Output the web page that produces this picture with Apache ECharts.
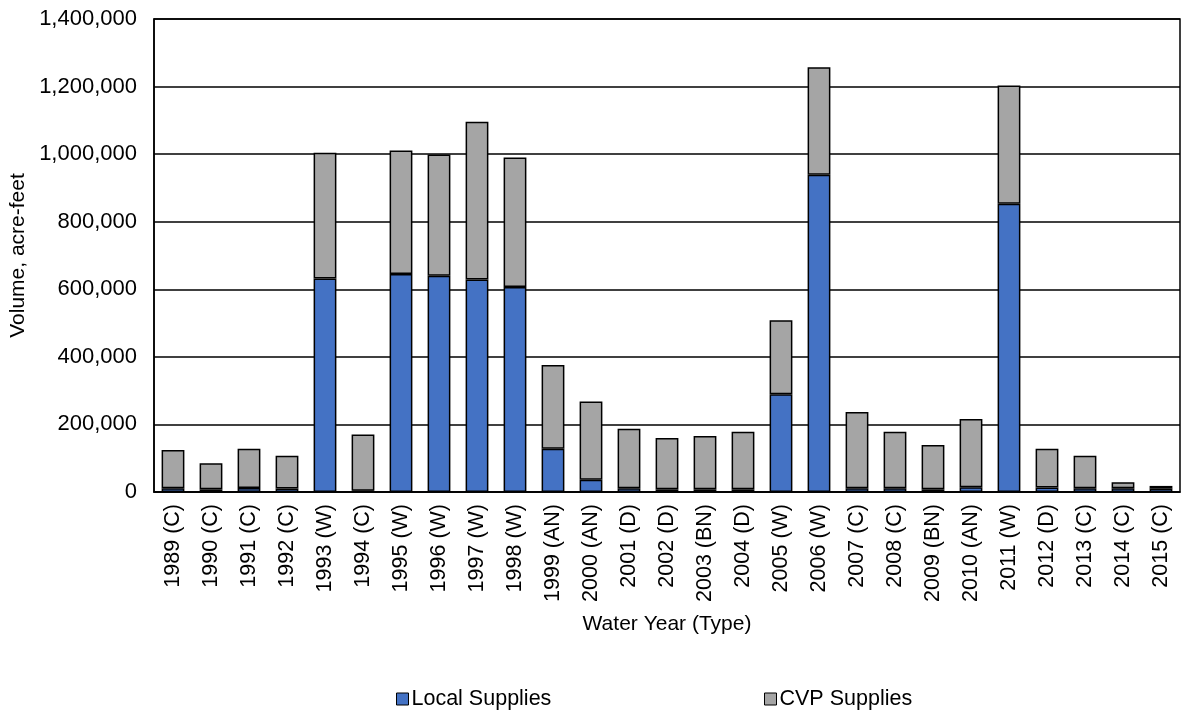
<!DOCTYPE html>
<html>
<head>
<meta charset="utf-8">
<script src="https://cdn.jsdelivr.net/npm/echarts@6/dist/echarts.min.js"></script>
<style>
  html, body { margin: 0; padding: 0; background: #fff; }
  #chart { width: 1188px; height: 713px; }
</style>
</head>
<body>
<div id="chart"></div>
<script>
// Water years with year-type classification
const waterYears = [
  '1989 (C)', '1990 (C)', '1991 (C)', '1992 (C)', '1993 (W)', '1994 (C)',
  '1995 (W)', '1996 (W)', '1997 (W)', '1998 (W)', '1999 (AN)', '2000 (AN)',
  '2001 (D)', '2002 (D)', '2003 (BN)', '2004 (D)', '2005 (W)', '2006 (W)',
  '2007 (C)', '2008 (C)', '2009 (BN)', '2010 (AN)', '2011 (W)', '2012 (D)',
  '2013 (C)', '2014 (C)', '2015 (C)'
];

// Local supplies, acre-feet
const localSupplies = [
  11000, 8000, 12000, 10000, 632000, 4000,
  645000, 640000, 629000, 607000, 128000, 36000,
  11000, 8000, 8000, 8000, 289000, 939000,
  11000, 11000, 8000, 14000, 853000, 13000,
  11000, 11000, 10000
];

// CVP supplies, acre-feet
const cvpSupplies = [
  113000, 77000, 116000, 97000, 372000, 166000,
  366000, 359000, 467000, 383000, 248000, 232000,
  176000, 152000, 158000, 170000, 219000, 318000,
  226000, 167000, 131000, 202000, 350000, 115000,
  96000, 18000, 8000
];

const FONT = '"Liberation Sans", Arial, sans-serif';
const TEXT = '#000';

const chart = echarts.init(document.getElementById('chart'), null, { renderer: 'canvas' });

const fmt = v => v.toString().replace(/\B(?=(\d{3})+(?!\d))/g, ',');

const legendText = { fontFamily: FONT, fontSize: 21.5, color: TEXT, padding: [0, 0, 0, -2] };

chart.setOption({
  animation: false,
  backgroundColor: '#fff',
  grid: {
    left: 154, right: 8, top: 19, bottom: 221,
    outerBoundsMode: 'none',
    containLabel: false,
    show: true, borderColor: '#000', borderWidth: 1.5, backgroundColor: 'transparent'
  },
  legend: [
    {
      data: ['Local Supplies'],
      icon: 'rect',
      left: 391, top: 683,
      itemWidth: 12, itemHeight: 12, itemGap: 4,
      itemStyle: { borderColor: '#000', borderWidth: 1 },
      textStyle: legendText
    },
    {
      data: ['CVP Supplies'],
      icon: 'rect',
      left: 759, top: 683,
      itemWidth: 12, itemHeight: 12, itemGap: 4,
      itemStyle: { borderColor: '#000', borderWidth: 1 },
      textStyle: legendText
    }
  ],
  xAxis: {
    type: 'category',
    data: waterYears,
    name: 'Water Year (Type)',
    nameLocation: 'middle',
    nameGap: 122,
    nameTextStyle: { fontFamily: FONT, fontSize: 21, color: TEXT },
    axisLine: { lineStyle: { color: '#000', width: 1.5 } },
    axisTick: { show: false },
    axisLabel: {
      interval: 0, rotate: 90, margin: 12,
      fontFamily: FONT, fontSize: 21.5, color: TEXT
    }
  },
  yAxis: {
    type: 'value',
    min: 0, max: 1400000, interval: 200000,
    name: 'Volume, acre-feet',
    nameLocation: 'middle',
    nameGap: 123,
    nameRotate: 90,
    nameTextStyle: { fontFamily: FONT, fontSize: 21, color: TEXT },
    axisLine: { show: true, lineStyle: { color: '#000', width: 1.5 } },
    axisTick: { show: false },
    splitLine: { lineStyle: { color: '#000', width: 1.5 } },
    axisLabel: {
      margin: 17, fontFamily: FONT, fontSize: 22, color: TEXT,
      formatter: fmt
    }
  },
  series: [
    {
      name: 'Local Supplies',
      type: 'bar',
      stack: 'supply',
      barWidth: '60%',
      data: localSupplies,
      itemStyle: { color: '#4472C4', borderColor: '#000', borderWidth: 1.5 }
    },
    {
      name: 'CVP Supplies',
      type: 'bar',
      stack: 'supply',
      barWidth: '60%',
      data: cvpSupplies,
      itemStyle: { color: '#A5A5A5', borderColor: '#000', borderWidth: 1.5 }
    }
  ]
});
</script>
</body>
</html>
